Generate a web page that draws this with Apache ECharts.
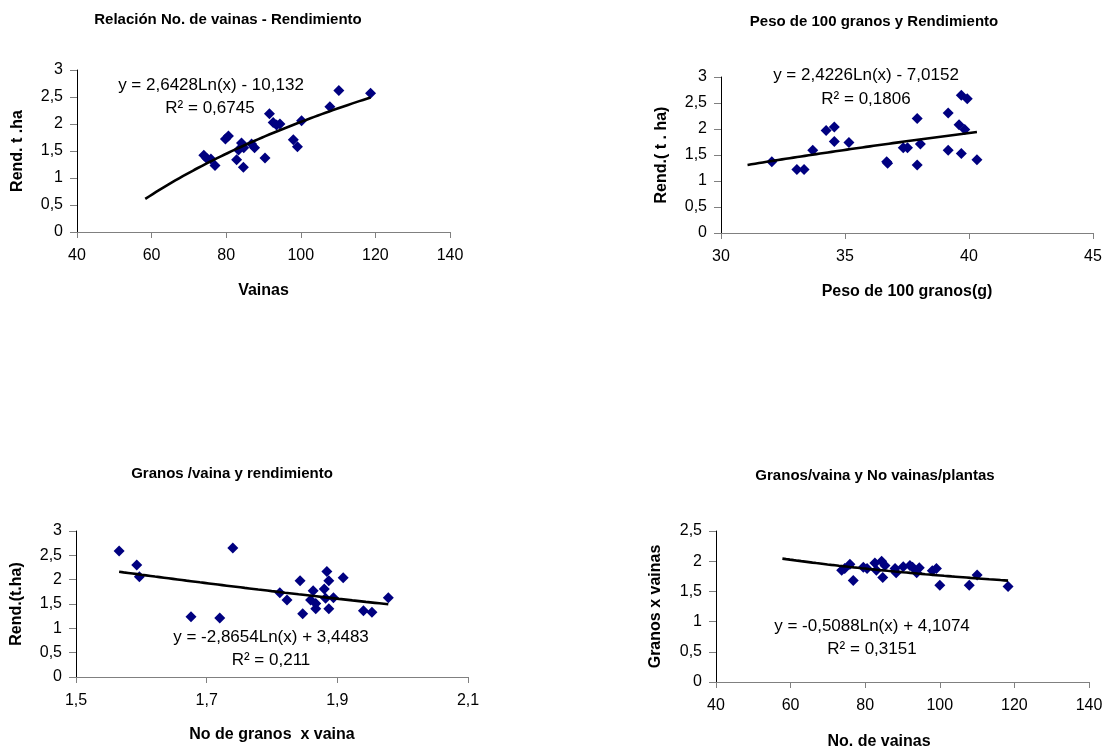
<!DOCTYPE html>
<html><head><meta charset="utf-8">
<script src="https://cdn.jsdelivr.net/npm/echarts@6/dist/echarts.min.js"></script>
<style>html,body{margin:0;padding:0;background:#fff}#c{width:1110px;height:751px}</style>
</head><body><div id="c"></div>
<script>
// ---------- data ----------
const titles = ['Relación No. de vainas - Rendimiento','Peso de 100 granos y Rendimiento','Granos /vaina y rendimiento','Granos/vaina y No vainas/plantas'];
const xNames = ['Vainas','Peso de 100 granos(g)','No de granos  x vaina','No. de vainas'];
const yNames = ['Rend. t .ha','Rend.( t . ha)','Rend.(t.ha)','Granos x vainas'];
const eqLines = ['y = 2,6428Ln(x) - 10,132','y = 2,4226Ln(x) - 7,0152','y = -2,8654Ln(x) + 3,4483','y = -0,5088Ln(x) + 4,1074'];
const r2Lines = ['R² = 0,6745','R² = 0,1806','R² = 0,211','R² = 0,3151'];

const xTicks1 = [40,60,80,100,120,140];
const xTicks2 = [30,35,40,45];
const xTicks3 = [1.5,1.7,1.9,2.1];
const xTicks4 = [40,60,80,100,120,140];
const yTicks1 = [0,0.5,1,1.5,2,2.5,3];
const yTicks2 = [0,0.5,1,1.5,2,2.5,3];
const yTicks3 = [0,0.5,1,1.5,2,2.5,3];
const yTicks4 = [0,0.5,1,1.5,2,2.5];

const p1X = [74.0,74.8,75.9,77.0,79.8,80.6,82.8,83.3,84.1,84.6,84.7,86.8,87.6,90.4,91.6,92.6,93.5,94.4,98.0,99.1,100.2,107.8,110.2,118.7];
const p1Y = [1.42,1.36,1.35,1.23,1.72,1.78,1.34,1.52,1.65,1.20,1.56,1.63,1.56,1.37,2.19,2.03,1.98,2.00,1.71,1.58,2.06,2.32,2.62,2.57];

const p2X = [32.05,33.06,33.35,33.70,34.24,34.57,34.57,35.16,36.68,36.72,37.35,37.52,37.91,37.91,38.04,39.16,39.16,39.60,39.69,39.69,39.93,39.83,40.32];
const p2Y = [1.37,1.22,1.22,1.59,1.97,2.04,1.76,1.74,1.37,1.34,1.64,1.64,2.20,1.31,1.71,2.31,1.59,2.08,1.53,2.65,2.58,1.99,1.41];

const p3X = [1.566,1.593,1.597,1.740,1.676,1.720,1.812,1.823,1.843,1.847,1.863,1.859,1.867,1.867,1.880,1.884,1.887,1.882,1.894,1.887,1.909,1.940,1.953,1.978];
const p3Y = [2.59,2.30,2.06,2.65,1.24,1.21,1.73,1.58,1.98,1.30,1.77,1.58,1.51,1.40,1.81,2.17,1.98,1.62,1.63,1.40,2.04,1.36,1.33,1.63];

const p4X = [73.7,74.5,75.9,76.8,79.5,80.5,82.6,83.0,84.4,84.7,85.3,88.0,88.3,90.2,92.0,92.7,93.8,94.5,98.0,99.1,100.0,107.9,110.0,118.3];
const p4Y = [1.85,1.88,1.95,1.68,1.90,1.88,1.97,1.85,2.00,1.73,1.93,1.88,1.81,1.91,1.93,1.90,1.81,1.89,1.84,1.88,1.60,1.60,1.77,1.58];

// logarithmic trend lines as printed on the chart: y = a*Ln(x) + b
const trendA = [2.6428, 2.4226, -2.8654, -0.5088];
const trendB = [-10.132, -7.0152, 3.4483, 4.1074];
const trendFrom = [58.3, 31.07, 1.566, 57.8];
const trendTo = [118.7, 40.32, 1.978, 118.3];

// ---------- chart ----------
const FONT = '"Liberation Sans", Arial, sans-serif';
const chart = echarts.init(document.getElementById('c'));
const fmt = v => String(Math.round(v*100)/100).replace('.', ',');
const grids = [
  {left:77, top:70, width:373, height:162},
  {left:721, top:77, width:372, height:156},
  {left:76, top:531, width:392, height:146},
  {left:716, top:531, width:373, height:151}
];
const xT = [xTicks1,xTicks2,xTicks3,xTicks4];
const yT = [yTicks1,yTicks2,yTicks3,yTicks4];
const pts = [[p1X,p1Y],[p2X,p2Y],[p3X,p3Y],[p4X,p4Y]];
const xNamePad = [[0,0,0,0],[0,0,0,0],[0,0,0,0],[0,47,0,0]];
const xNameGap = [51,51,50,52];
const yNameGap = [51,51,51,52];

const xAxes = xT.map((t,i)=>({
  type:'value', gridIndex:i, min:t[0], max:t[t.length-1],
  name:xNames[i], nameLocation:'middle', nameGap:xNameGap[i],
  nameTextStyle:{fontFamily:FONT, fontWeight:'bold', fontSize:16, color:'#000', padding:xNamePad[i]},
  axisLine:{show:true, onZero:false, lineStyle:{color:'#808080', width:1}},
  axisTick:{show:true, length:6, inside:false, lineStyle:{color:'#808080'}, customValues:t},
  axisLabel:{fontFamily:FONT, fontSize:16, color:'#000', margin:16, formatter:fmt, customValues:t},
  splitLine:{show:false}
}));
const yAxes = yT.map((t,i)=>({
  type:'value', gridIndex:i, min:t[0], max:t[t.length-1], interval:0.5,
  name:yNames[i], nameLocation:'middle', nameGap:yNameGap[i], nameRotate:90,
  nameTextStyle:{fontFamily:FONT, fontWeight:'bold', fontSize:16, color:'#000'},
  axisLine:{show:true, onZero:false, lineStyle:{color:'#000', width:1}},
  axisTick:{show:true, length:7, lineStyle:{color:'#808080'}},
  axisLabel:{fontFamily:FONT, fontSize:16, color:'#000', margin:14, formatter:fmt},
  splitLine:{show:false}
}));

const series = [];
pts.forEach((p,i)=>{
  series.push({
    type:'scatter', xAxisIndex:i, yAxisIndex:i, symbol:'diamond', symbolSize:11,
    itemStyle:{color:'#000080', opacity:1}, data:p[0].map((x,k)=>[x,p[1][k]]), z:3, silent:true
  });
  const n = 60, line = [];
  for (let k=0;k<=n;k++){
    const x = trendFrom[i] + (trendTo[i]-trendFrom[i])*k/n;
    line.push([x, trendA[i]*Math.log(x)+trendB[i]]);
  }
  series.push({
    type:'line', xAxisIndex:i, yAxisIndex:i, data:line, showSymbol:false, symbol:'none',
    lineStyle:{color:'#000', width:2.6}, z:4, silent:true
  });
});

const titlePos = [[228,20],[874,22],[232,474],[875,476]];
const eqPos = [[211,85],[866,75],[271,637],[872,626]];
const r2Pos = [[210,108],[866,99],[271,660],[872,649]];
const graphics = [];
titles.forEach((t,i)=>graphics.push({type:'text', x:titlePos[i][0], y:titlePos[i][1],
  style:{text:t, font:'bold 15px '+FONT, fill:'#000', textAlign:'center', textVerticalAlign:'middle'}}));
eqLines.forEach((t,i)=>graphics.push({type:'text', x:eqPos[i][0], y:eqPos[i][1], z:10,
  style:{text:t, font:'17px '+FONT, fill:'#000', textAlign:'center', textVerticalAlign:'middle'}}));
r2Lines.forEach((t,i)=>graphics.push({type:'text', x:r2Pos[i][0], y:r2Pos[i][1], z:10,
  style:{text:t, font:'17px '+FONT, fill:'#000', textAlign:'center', textVerticalAlign:'middle'}}));

chart.setOption({
  animation:false, backgroundColor:'#fff',
  grid:grids, xAxis:xAxes, yAxis:yAxes, series:series, graphic:graphics
});
</script></body></html>
